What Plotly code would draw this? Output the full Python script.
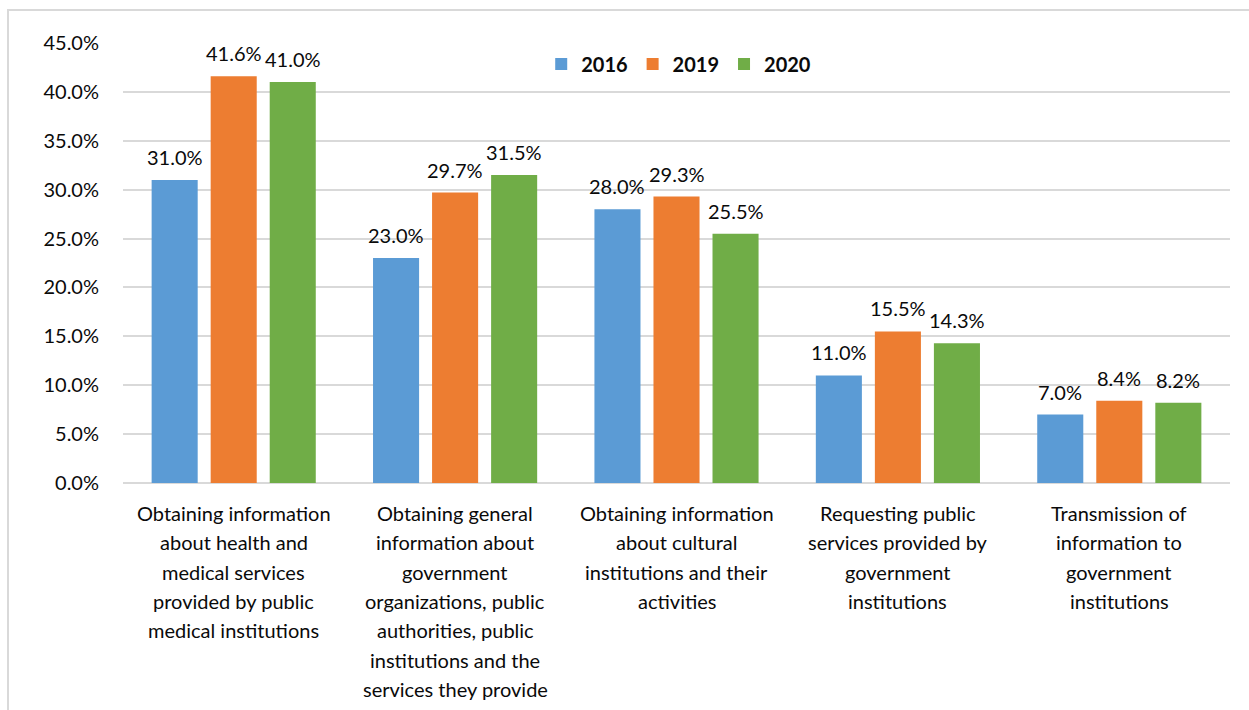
import plotly.graph_objects as go

# Purposes of Internet use when dealing with public institutions (% of users)
category_lines = [
    ["Obtaining information", "about health and", "medical services",
     "provided by public", "medical institutions"],
    ["Obtaining general", "information about", "government",
     "organizations, public", "authorities, public",
     "institutions and the", "services they provide"],
    ["Obtaining information", "about cultural", "institutions and their",
     "activities"],
    ["Requesting public", "services provided by", "government",
     "institutions"],
    ["Transmission of", "information to", "government", "institutions"],
]
categories = [" ".join(lines) for lines in category_lines]

years = ["2016", "2019", "2020"]
values_2016 = [31.0, 23.0, 28.0, 11.0, 7.0]
values_2019 = [41.6, 29.7, 29.3, 15.5, 8.4]
values_2020 = [41.0, 31.5, 25.5, 14.3, 8.2]
series = [values_2016, values_2019, values_2020]
colors = ["#5B9BD5", "#ED7D31", "#70AD47"]

FONT = "Lato"
TEXT_COLOR = "#0a0a0a"
GRID = "#d9d9d9"

W, H = 1249, 710
M_L, M_R, M_T, M_B = 123, 19, 43, 227
BARGAP, BARGROUPGAP = 0.2, 0.22

fig = go.Figure()
for name, vals, col in zip(years, series, colors):
    fig.add_trace(go.Bar(
        x=categories, y=vals, name=name,
        marker=dict(color=col, line=dict(width=0)),
        hoverinfo="x+y+name",
    ))

# value labels above each bar, shifted to the bar's slot within the group
plot_w = W - M_L - M_R
slot_px = plot_w / len(categories) * (1 - BARGAP) / len(series)
annotations = []
for i, vals in enumerate(series):
    offset = (i - (len(series) - 1) / 2) * slot_px
    for cat, v in zip(categories, vals):
        annotations.append(dict(
            x=cat, y=v, xref="x", yref="y", text=f"{v:.1f}%",
            showarrow=False, xshift=offset, yshift=23,
            yanchor="middle", xanchor="center",
            font=dict(family=FONT, size=20, color=TEXT_COLOR),
        ))

# wrapped category labels under the axis
for cat, lines in zip(categories, category_lines):
    for j, line in enumerate(lines):
        annotations.append(dict(
            x=cat, y=0, xref="x", yref="y", text=line,
            showarrow=False, yshift=-(30 + 29.3 * j),
            yanchor="middle", xanchor="center",
            font=dict(family=FONT, size=20, color=TEXT_COLOR),
        ))

fig.update_layout(
    width=W, height=H,
    margin=dict(l=M_L, r=M_R, t=M_T, b=M_B),
    paper_bgcolor="white", plot_bgcolor="white",
    barmode="group", bargap=BARGAP, bargroupgap=BARGROUPGAP,
    font=dict(family=FONT, size=20, color=TEXT_COLOR),
    showlegend=True,
    legend=dict(
        orientation="h", x=0.502, y=0.952, xanchor="center", yanchor="middle",
        font=dict(family=FONT, size=20, color=TEXT_COLOR, weight="bold"),
        bgcolor="rgba(0,0,0,0)", itemclick=False, itemdoubleclick=False,
    ),
    annotations=annotations,
    shapes=[dict(
        type="rect", xref="paper", yref="paper",
        x0=(8 - M_L) / plot_w, x1=(1260 - M_L) / plot_w,
        y0=(H - M_B - 760) / (H - M_T - M_B), y1=(H - M_B - 10) / (H - M_T - M_B),
        line=dict(color=GRID, width=2), fillcolor="rgba(0,0,0,0)", layer="below",
    )],
)
fig.update_xaxes(
    type="category", showticklabels=False, showgrid=False,
    showline=False, ticks="", zeroline=False,
)
fig.update_yaxes(
    range=[0, 45], dtick=5, tickformat=".1f", ticksuffix="%",
    showgrid=True, gridcolor=GRID, gridwidth=1.5,
    zeroline=True, zerolinecolor=GRID, zerolinewidth=1.5,
    showline=False, ticks="outside", ticklen=19, tickcolor="rgba(0,0,0,0)",
    tickfont=dict(family=FONT, size=20, color=TEXT_COLOR),
)

fig.write_html("out.html")
